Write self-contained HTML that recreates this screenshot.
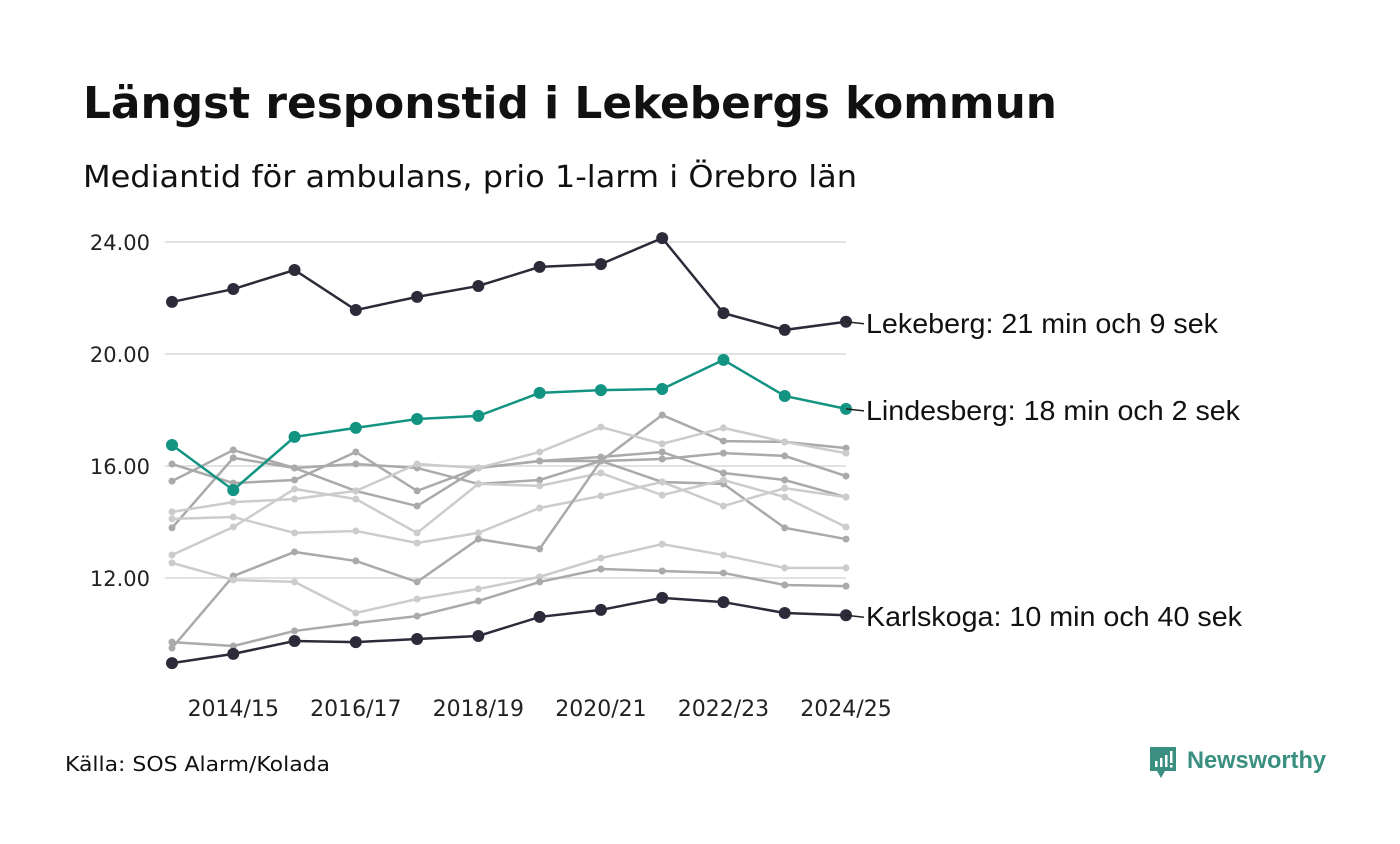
<!DOCTYPE html>
<html><head><meta charset="utf-8"><style>
body{margin:0;background:#fff;width:1400px;height:840px;overflow:hidden;font-family:"DejaVu Sans","Liberation Sans",sans-serif}
</style></head><body>
<svg width="1400" height="840" id="chart">
<text x="83" y="118" font-size="44" font-weight="bold" fill="#111" textLength="974" lengthAdjust="spacingAndGlyphs">Längst responstid i Lekebergs kommun</text>
<text x="83" y="187" font-size="30" fill="#111" textLength="774" lengthAdjust="spacingAndGlyphs">Mediantid för ambulans, prio 1-larm i Örebro län</text>
<g id="grid"></g><g id="gray"></g><g id="main"></g><g id="labels"></g>
<text x="65" y="771" font-size="20" fill="#111" textLength="265" lengthAdjust="spacingAndGlyphs">Källa: SOS Alarm/Kolada</text>
<g>
<path d="M1150 747h26v24h-11l-4 7l-4-7h-7z" fill="#3a8f80"/>
<rect x="1155" y="761" width="2.5" height="6" fill="#fff"/><rect x="1160" y="758" width="2.5" height="9" fill="#fff"/><rect x="1165" y="755" width="2.5" height="12" fill="#fff"/><rect x="1170" y="751" width="2.5" height="12" fill="#fff"/><rect x="1170" y="765" width="2.5" height="2.5" fill="#fff"/>
<text x="1187" y="768" font-size="24" font-weight="bold" fill="#3a8f80" font-family="Liberation Sans, sans-serif" textLength="139" lengthAdjust="spacingAndGlyphs">Newsworthy</text>
</g>
</svg>
<script>
const categories=["2013/14","2014/15","2015/16","2016/17","2017/18","2018/19","2019/20","2020/21","2021/22","2022/23","2023/24","2024/25"];
const yTicks=[12,16,20,24];
const lekeberg=[21.86,22.32,23.0,21.57,22.04,22.43,23.11,23.21,24.14,21.46,20.86,21.15];
const lindesberg=[16.75,15.14,17.04,17.36,17.68,17.79,18.61,18.71,18.75,19.79,18.5,18.04];
const karlskoga=[8.96,9.29,9.75,9.71,9.82,9.93,10.61,10.86,11.29,11.14,10.75,10.67];
const grayA=[16.07,15.39,15.5,16.5,15.11,15.93,16.18,16.18,17.82,16.89,16.86,16.64];
const grayB=[13.79,16.29,15.93,15.11,14.57,15.93,16.18,16.32,16.5,15.75,15.5,14.89];
const grayC=[15.46,16.57,15.93,16.07,15.93,15.36,15.5,16.18,15.43,15.36,13.79,13.39];
const grayD=[14.36,14.71,14.82,15.11,16.07,15.93,16.5,17.39,16.79,17.36,16.86,16.46];
const grayE=[14.11,14.18,13.61,13.68,13.25,13.61,14.5,14.93,15.43,14.57,15.21,14.89];
const grayF=[12.82,13.82,15.18,14.82,13.61,15.36,15.29,15.75,14.96,15.5,14.89,13.82];
const grayG=[9.5,12.07,12.93,12.61,11.86,13.39,13.04,16.18,16.25,16.46,16.36,15.64];
const grayH=[12.54,11.93,11.86,10.75,11.25,11.61,12.04,12.71,13.21,12.82,12.36,12.36];
const grayI=[9.71,9.57,10.11,10.39,10.64,11.18,11.86,12.32,12.25,12.18,11.75,11.71];
const grays=[[grayA,"#aaa"],[grayB,"#aaa"],[grayC,"#aaa"],[grayD,"#ccc"],[grayE,"#ccc"],[grayF,"#ccc"],[grayG,"#aaa"],[grayH,"#ccc"],[grayI,"#aaa"]];
const NS="http://www.w3.org/2000/svg";
const xS=i=>172+i*(846-172)/11;
const yS=v=>242+(24-v)*28;
function mk(t,a,p){const e=document.createElementNS(NS,t);for(const k in a)e.setAttribute(k,a[k]);p.appendChild(e);return e;}
const grid=document.getElementById('grid');
yTicks.forEach(v=>{
 const l=mk('line',{x1:165,x2:846,y1:yS(v),y2:yS(v),stroke:'#e2e2e2','stroke-width':2},grid);
 
 
 const t=mk('text',{x:150,y:yS(v)+8,'font-size':21,'text-anchor':'end',fill:'#222'},grid);
 t.textContent=v.toFixed(2);
 
 
});
categories.forEach((c,i)=>{if(i%2===1){
 const t=mk('text',{x:xS(i),y:716,'font-size':22,'text-anchor':'middle',fill:'#222'},grid);
 t.textContent=c;
 
 
}});
function series(vals,col,r,w,g,name){
 const p=mk('polyline',{points:vals.map((v,i)=>xS(i)+','+yS(v)).join(' '),fill:'none',stroke:col,'stroke-width':w},g);
 
 
 vals.forEach((v,i)=>{const c=mk('circle',{cx:xS(i),cy:yS(v),r:r,fill:col},g);
  
  });
}
const gg=document.getElementById('gray');
grays.forEach((s,k)=>series(s[0],s[1],3.5,2.5,gg,'municipality-'+k));
const mg=document.getElementById('main');
series(karlskoga,'#2d2b3a',6,2.5,mg,'karlskoga');
series(lekeberg,'#2d2b3a',6,2.5,mg,'lekeberg');
series(lindesberg,'#139483',6,2.5,mg,'lindesberg');
const lg=document.getElementById('labels');
[[lekeberg,'Lekeberg: 21 min och 9 sek',352],[lindesberg,'Lindesberg: 18 min och 2 sek',374],[karlskoga,'Karlskoga: 10 min och 40 sek',376]].forEach(([s,txt,w])=>{
 const y=yS(s[11]);
 mk('line',{x1:846,x2:864,y1:y,y2:y+2,stroke:'#222','stroke-width':1.5},lg);
 const t=mk('text',{x:866,y:y+11,'font-size':28,fill:'#111','font-family':'Liberation Sans, sans-serif',textLength:w,lengthAdjust:'spacingAndGlyphs'},lg);
 t.textContent=txt;
 
 
});
</script>
</body></html>
